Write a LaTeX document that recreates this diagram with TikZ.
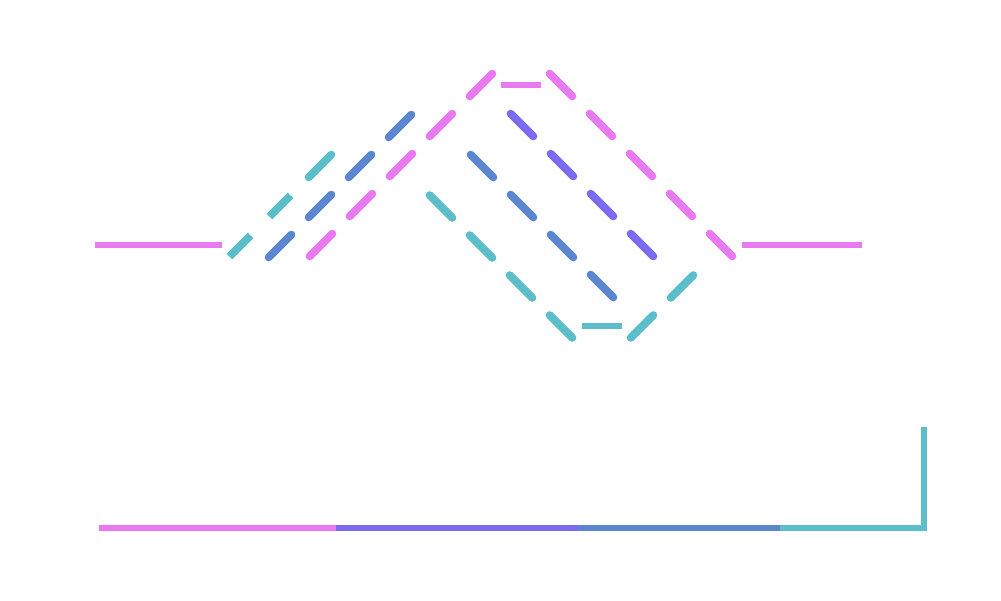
\documentclass[tikz,border=0pt]{standalone}
\usepackage{tikz}
\usetikzlibrary{calc}
\definecolor{rose}{HTML}{E879F0}
\definecolor{violetb}{HTML}{7B6BF0}
\definecolor{steel}{HTML}{5B86D0}
\definecolor{teal2}{HTML}{5CBECA}
\tikzset{
  ln/.style = {line width=6pt},% solid pieces
  ds/.style = {line width=8pt, line cap=round, dash pattern=on 32pt off 24.57pt, shorten <=-16pt, shorten >=-16pt},
  bt/.style = {ds, line cap=butt, dash pattern=on 30pt off 26.57pt, shorten <=-15pt, shorten >=-15pt},
  hs/.style = {ln, shorten <=20pt, shorten >=20pt}
}
\begin{document}
\begin{tikzpicture}[x=1pt,y=-1pt]
\useasboundingbox (0,0) rectangle (1001,601);
% corners of the four routes
\coordinate (tl1) at (240,246);
\coordinate (tl2) at (280,206);
\coordinate (tl3) at (320,166);
\coordinate (tl4) at (441,206.5);
\coordinate (tl5) at (561,326.5);
\coordinate (tl6) at (642,326.5);
\coordinate (tl7) at (682,286.5);
\coordinate (bl1) at (280,246);
\coordinate (bl2) at (400,126);
\coordinate (bl3) at (482,166);
\coordinate (bl4) at (602,286);
\coordinate (pu1) at (522,125);
\coordinate (pu2) at (642,245);
\coordinate (pk1) at (95,245.5);
\coordinate (pk2) at (222,245.5);
\coordinate (pk3) at (321,245);
\coordinate (pk4) at (481,85);
\coordinate (pk5) at (561,85);
\coordinate (pk6) at (721,245);
\coordinate (pk7) at (742,245.5);
\coordinate (pk8) at (862,245.5);
% teal
\draw[bt, teal2] (tl1) -- (tl2);
\draw[ds, teal2, shorten <=0pt, shorten >=0pt] ($(tl3)+(-11.3,11.3)$) -- ($(tl3)+(11.3,-11.3)$);
\draw[ds, teal2] (tl4) -- (tl5);
\draw[hs, teal2, shorten <=21pt] (tl5) -- (tl6);
\draw[ds, teal2] (tl6) -- (tl7);
% blue
\draw[ds, steel] (bl1) -- (bl2);
\draw[ds, steel] (bl3) -- (bl4);
% purple
\draw[ds, violetb] (pu1) -- (pu2);
% pink
\draw[ln, rose] (pk1) -- (pk2);
\draw[ds, rose] (pk3) -- (pk4);
\draw[hs, rose] (pk4) -- (pk5);
\draw[ds, rose] (pk5) -- (pk6);
\draw[ln, rose] (pk7) -- (pk8);
% bottom bar
\coordinate (b1) at (99,528);
\coordinate (b2) at (336,528);
\coordinate (b3) at (579,528);
\coordinate (b4) at (780,528);
\coordinate (b5) at (923.5,528);
\coordinate (b6) at (923.5,427);
\draw[ln, rose] (b1) -- (b2);
\draw[ln, violetb] (b2) -- (b3);
\draw[ln, steel] (b3) -- (b4);
\draw[ln, teal2] (b4) -- (b5) -- (b6);
\end{tikzpicture}
\end{document}
